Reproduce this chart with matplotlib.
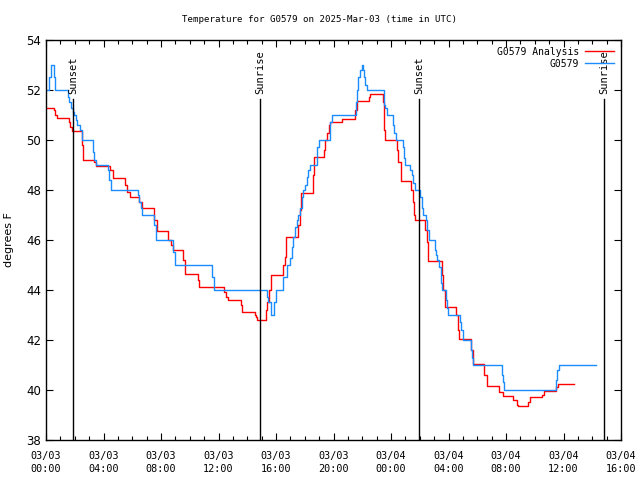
import numpy as np
import matplotlib
matplotlib.use("Agg")
import matplotlib.pyplot as plt

# hours since 2025-03-03 00:00 UTC, step values in degrees F
obs_hours = [0.00, 0.21, 0.35, 0.56, 0.65, 1.50, 1.60, 1.74, 1.86, 1.95, 2.09, 2.19, 2.37, 2.48,
             3.27, 3.37, 3.48, 4.29, 4.38, 4.52, 6.38, 6.47, 6.61, 6.70, 7.53, 7.65, 8.81, 8.97,
             11.53, 11.69, 15.35, 15.44, 15.63, 15.86, 16.00, 16.51, 16.74, 16.97, 17.11, 17.20,
             17.32, 17.46, 17.55, 17.67, 17.79, 17.90, 18.02, 18.18, 18.25, 18.37, 18.83, 19.01,
             19.76, 19.87, 21.57, 21.66, 21.73, 21.84, 21.96, 22.07, 22.12, 22.19, 22.31, 23.53,
             23.58, 23.70, 24.16, 24.23, 24.33, 24.81, 24.90, 24.97, 25.32, 25.44, 25.55, 25.67,
             26.02, 26.14, 26.25, 26.43, 26.52, 26.66, 27.06, 27.13, 27.22, 27.36, 27.46, 27.53,
             27.83, 27.87, 27.99, 28.80, 28.87, 29.03, 29.54, 29.61, 29.68, 31.70, 31.79, 31.86,
             35.48, 35.57, 35.71, 38.24]
obs_temp = [52.0, 52.5, 53.0, 52.5, 52.0, 51.7, 51.5, 51.3, 51.1, 51.0, 50.8, 50.6, 50.4, 50.0,
            49.5, 49.2, 49.0, 48.8, 48.4, 48.0, 47.8, 47.5, 47.3, 47.0, 46.6, 46.0, 45.5, 45.0,
            44.5, 44.0, 43.7, 43.5, 43.0, 43.5, 44.0, 44.5, 45.0, 45.3, 45.7, 46.1,
            46.5, 46.8, 47.0, 47.3, 47.7, 48.0, 48.2, 48.5, 48.8, 49.0, 49.7, 50.0,
            50.7, 51.0, 51.5, 52.0, 52.5, 52.8, 53.0, 52.8, 52.5, 52.2, 52.0, 51.4,
            51.3, 51.0, 50.6, 50.3, 50.0, 49.7, 49.3, 49.0, 48.8, 48.6, 48.3, 48.0,
            47.7, 47.3, 47.0, 46.8, 46.4, 46.0, 45.6, 45.4, 45.2, 44.9, 44.3, 44.0,
            43.6, 43.3, 43.0, 42.7, 42.4, 42.0, 41.6, 41.3, 41.0, 40.6, 40.3, 40.0,
            40.4, 40.8, 41.0, 41.0]

ana_hours = [0.00, 0.56, 0.63, 0.74, 1.60, 1.67, 1.83, 2.53, 2.59, 3.36, 3.48, 4.45, 4.64, 5.50,
             5.61, 5.84, 6.47, 6.66, 7.53, 7.70, 8.51, 8.70, 8.83, 9.53, 9.67, 10.55, 10.64,
             12.38, 12.52, 12.66, 13.54, 13.63, 14.54, 14.61, 14.70, 15.30, 15.39, 15.51, 15.65,
             16.51, 16.63, 16.70, 17.55, 17.67, 17.72, 18.55, 18.64, 19.34, 19.41, 19.57, 19.67,
             19.76, 20.57, 21.52, 21.61, 22.45, 22.54, 23.46, 23.53, 23.60, 24.40, 24.51, 24.68,
             25.37, 25.51, 25.60, 25.69, 26.37, 26.48, 26.57, 27.53, 27.62, 27.76, 28.52, 28.68,
             28.75, 29.54, 29.68, 30.49, 30.70, 31.53, 31.77, 32.51, 32.74, 32.86, 33.55, 33.67,
             34.48, 34.64, 35.48, 35.64, 36.73]
ana_temp = [51.3, 51.2, 51.0, 50.87, 50.7, 50.5, 50.36, 49.8, 49.2, 49.1, 48.96, 48.8, 48.47, 48.2,
            47.9, 47.73, 47.5, 47.3, 46.8, 46.36, 46.0, 45.8, 45.6, 45.2, 44.64, 44.4, 44.13,
            43.9, 43.7, 43.6, 43.4, 43.13, 43.0, 42.9, 42.8, 43.2, 43.5, 44.0, 44.6,
            45.0, 45.33, 46.13, 46.6, 47.2, 47.87, 48.6, 49.33, 49.6, 50.0, 50.3, 50.6,
            50.73, 50.84, 51.2, 51.57, 51.73, 51.83, 51.5, 50.4, 50.0, 49.6, 49.1, 48.36,
            48.0, 47.5, 47.0, 46.8, 46.4, 45.9, 45.16, 44.6, 44.0, 43.33, 43.0, 42.4,
            42.03, 41.6, 41.03, 40.6, 40.16, 39.9, 39.76, 39.6, 39.4, 39.36, 39.5, 39.7,
            39.8, 39.97, 40.1, 40.24, 40.24]

sun_hours = [1.88, 14.89, 25.95, 38.80]
sun_labels = ["Sunset", "Sunrise", "Sunset", "Sunrise"]

tick_hours = list(range(0, 41, 4))
tick_labels = ["03/03\n00:00", "03/03\n04:00", "03/03\n08:00", "03/03\n12:00", "03/03\n16:00",
               "03/03\n20:00", "03/04\n00:00", "03/04\n04:00", "03/04\n08:00", "03/04\n12:00",
               "03/04\n16:00"]

mono = "DejaVu Sans Mono"

fig = plt.figure(figsize=(6.4, 4.8), dpi=100)
ax = fig.add_axes([46 / 640, 40 / 480, 575 / 640, 400 / 480])

ax.step(ana_hours, ana_temp, where="post", color="#ff0000", lw=1.0, label="G0579 Analysis")
ax.step(obs_hours, obs_temp, where="post", color="#1a8cff", lw=1.0, label="G0579")

for h, lab in zip(sun_hours, sun_labels):
    ax.plot([h, h], [38, 51.65], color="black", lw=1.0)
    ax.text(h, 51.85, lab, rotation=90, ha="center", va="bottom", family=mono, fontsize=7.5)

ax.set_xlim(0, 40)
ax.set_ylim(38, 54)
ax.set_xticks(tick_hours)
ax.set_xticklabels(tick_labels, family=mono, fontsize=7.3, linespacing=1.3)
ax.set_xticks(range(0, 41), minor=True)
ax.set_yticks(range(38, 55, 2))
ax.tick_params(axis="y", labelsize=8.5)
ax.tick_params(axis="x", pad=8)
ax.tick_params(which="both", direction="in", top=True, right=True, width=0.8)
ax.tick_params(which="major", length=5)
ax.tick_params(which="minor", length=3)
for s in ax.spines.values():
    s.set_linewidth(1.0)

ax.set_ylabel("degrees F", fontsize=8)
ax.yaxis.set_label_coords(-0.055, 0.5)
fig.text(0.5, 1 - 20 / 480, "Temperature for G0579 on 2025-Mar-03 (time in UTC)", family=mono,
         fontsize=6.6, ha="center", va="center")

ax.legend(loc="upper right", frameon=False, markerfirst=False, prop={"family": mono, "size": 7},
          handlelength=3.0, labelspacing=0.2, borderaxespad=0.3, handletextpad=0.6)

fig.savefig("out.png", dpi=100)
